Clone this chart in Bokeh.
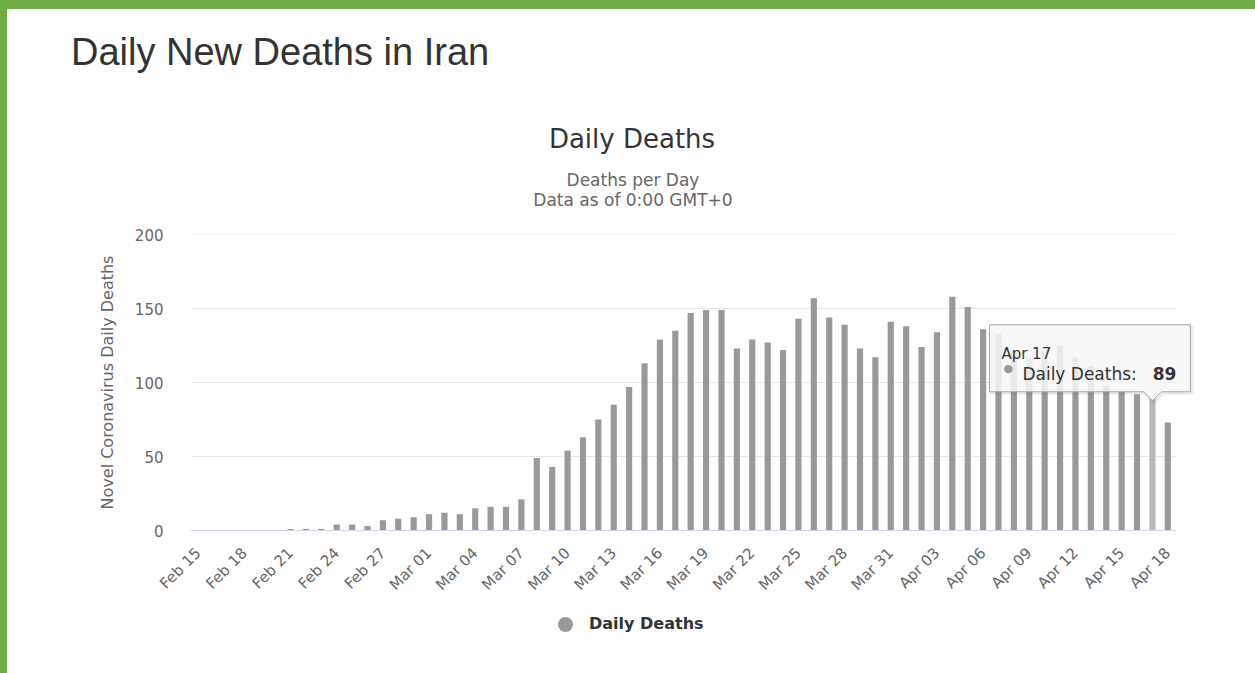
import math
import pandas as pd
from bokeh.plotting import figure
from bokeh.models import (ColumnDataSource, Range1d, FixedTicker, Label, Div)
from bokeh.layouts import column, row
from bokeh.embed import file_html
from bokeh.resources import INLINE

# ---------------- data ----------------
dates = [d.strftime("%b %d") for d in pd.date_range("2020-02-15", "2020-04-18")]
deaths = [0, 0, 0, 0, 0, 0,
          1, 1, 1, 4, 4, 3, 7, 8, 9,
          11, 12, 11, 15, 16, 16, 21,
          49, 43, 54, 63, 75, 85, 97, 113, 129, 135, 147, 149, 149, 123, 129, 127,
          122, 143, 157, 144, 139, 123, 117, 141,
          138, 124, 134, 158, 151, 136, 133, 121, 117, 122, 125, 117, 111, 98, 94,
          92, 89, 73]
tick_idx = list(range(0, len(dates), 3))
y_ticks = [0, 50, 100, 150, 200]
grid_vals = [50, 100, 150, 200]
series_name = "Daily Deaths"
hover_date = "Apr 17"
page_title = "Daily New Deaths in Iran"
chart_title = "Daily Deaths"
subtitle_lines = ["Deaths per Day", "Data as of 0:00 GMT+0"]
y_title = "Novel Coronavirus Daily Deaths"

BAR = "#999999"
BAR_HI = "#b8b8b8"
GREEN = "#70ad47"

CW = 1248  # content width (window minus left green band)

def txt(s, left, top, size, font, color, weight="normal", width=None, align="left"):
    w = f"width:{width}px;" if width else ""
    return (f'<div style="position:absolute;left:{left}px;top:{top}px;{w}'
            f'font-family:\'{font}\';font-size:{size}px;line-height:{size}px;'
            f'font-weight:{weight};color:{color};white-space:nowrap;text-align:{align};">'
            f'{s}</div>')

# ---------------- header ----------------
HH = 210
head_html = ('<div style="position:relative;width:%dpx;height:%dpx;">' % (CW, HH)
             + txt(page_title, 64, 24, 38, "Liberation Sans", "#333333")
             + txt(chart_title, 325, 117, 26, "DejaVu Sans", "#333333", width=600, align="center")
             + "".join(txt(line, 326, 163 + 20 * i, 17, "DejaVu Sans", "#666666",
                           width=600, align="center")
                       for i, line in enumerate(subtitle_lines))
             + "</div>")
header = Div(text=head_html, width=CW, height=HH, margin=0)

# ---------------- main chart ----------------
H = 391
ML, MR, MT, MB = 183, 60, 15, 80
x_end = 64.8
p = figure(width=CW, height=H, x_range=Range1d(-0.5, x_end), y_range=Range1d(0, 200),
           output_backend="svg", toolbar_location=None,
           min_border_left=ML, min_border_right=MR, min_border_top=MT, min_border_bottom=MB,
           outline_line_color=None, background_fill_color="white", border_fill_color="white")
p.xgrid.visible = False
p.ygrid.visible = False

ppx = (x_end + 0.5) / (CW - ML - MR)   # data units per pixel (x)
ppy = 200.0 / (H - MT - MB)            # data units per pixel (y)

p.segment(x0=-0.5, y0=grid_vals, x1=len(dates) - 0.5, y1=grid_vals,
          line_color="#e6e6e6", line_width=1)

colors = [BAR_HI if d == hover_date else BAR for d in dates]
src = ColumnDataSource(dict(x=list(range(len(dates))), top=deaths, color=colors, date=dates))
p.vbar(x="x", top="top", width=0.4, fill_color="color", line_color=None, source=src)

xa = p.xaxis[0]
xa.ticker = FixedTicker(ticks=tick_idx)
xa.major_label_overrides = {i: dates[i] for i in tick_idx}
xa.major_label_orientation = math.pi / 4
xa.bounds = (-0.5, len(dates) - 0.5)
xa.axis_line_color = "#ccd6eb"
xa.major_tick_line_color = None
xa.minor_tick_line_color = None
xa.major_label_text_font = "DejaVu Sans"
xa.major_label_text_font_size = "15px"
xa.major_label_text_color = "#666666"
xa.major_label_standoff = 14

ya = p.yaxis[0]
ya.ticker = FixedTicker(ticks=y_ticks)
ya.axis_line_color = None
ya.major_tick_line_color = None
ya.minor_tick_line_color = None
ya.major_label_standoff = 21
ya.major_label_text_font = "DejaVu Sans"
ya.major_label_text_font_size = "15px"
ya.major_label_text_color = "#666666"
ya.axis_label = y_title
ya.axis_label_text_font = "DejaVu Sans"
ya.axis_label_text_font_style = "normal"
ya.axis_label_text_font_size = "16px"
ya.axis_label_text_color = "#666666"
ya.axis_label_standoff = 15

# tooltip
hx = dates.index(hover_date)
hy = deaths[hx]
tip_y = hy - 2 * ppy
L = hx - 163 * ppx
R = hx + 38 * ppx
T = tip_y + 76 * ppy
B = tip_y + 9 * ppy
hw = 9 * ppx
xs = [L, L, R, R, hx + hw, hx, hx - hw]
ys = [B, T, T, B, B, tip_y, B]
p.patch([v + 1.5 * ppx for v in xs], [v - 1.5 * ppy for v in ys],
        fill_alpha=0, line_color="black", line_alpha=0.08, line_width=3)
p.patch(xs, ys, fill_color="#f7f7f7", fill_alpha=0.85, line_color="#a6a6a6", line_width=1)

p.add_layout(Label(x=hx, y=hy, x_offset=-151, y_offset=45, text=hover_date,
                   text_baseline="alphabetic",
                   text_font="DejaVu Sans", text_font_size="15px", text_color="#333333"))
p.add_layout(Label(x=hx, y=hy, x_offset=-144, y_offset=30, text="\u25cf",
                   text_align="center", text_baseline="middle",
                   text_font="DejaVu Sans", text_font_size="11px", text_color=BAR))
p.add_layout(Label(x=hx, y=hy, x_offset=-130, y_offset=25, text=series_name + ": ",
                   text_baseline="alphabetic",
                   text_font="DejaVu Sans", text_font_size="17px", text_color="#333333"))
p.add_layout(Label(x=hx, y=hy, x_offset=24, y_offset=25, text=str(hy), text_align="right",
                   text_baseline="alphabetic",
                   text_font="DejaVu Sans", text_font_size="17px", text_font_style="bold",
                   text_color="#333333"))

# ---------------- footer with legend ----------------
FH = 673 - 9 - HH - H
foot_html = ('<div style="position:relative;width:%dpx;height:%dpx;">' % (CW, FH)
             + f'<div style="position:absolute;left:551px;top:7px;width:15px;height:15px;'
               f'border-radius:50%;background:{BAR};"></div>'
             + txt(series_name, 582, 6, 16, "DejaVu Sans", "#333333", weight="bold")
             + "</div>")
footer = Div(text=foot_html, width=CW, height=FH, margin=0)

# ---------------- page frame (green bands) ----------------
top_band = Div(text="", width=1255, height=9, margin=0,
               styles={"background-color": GREEN})
left_band = Div(text="", width=7, height=673 - 9, margin=0,
                styles={"background-color": GREEN})
layout = column(top_band, row(left_band, column(header, p, footer, spacing=0), spacing=0),
                spacing=0)

open("out.html", "w").write(file_html(layout, INLINE))
